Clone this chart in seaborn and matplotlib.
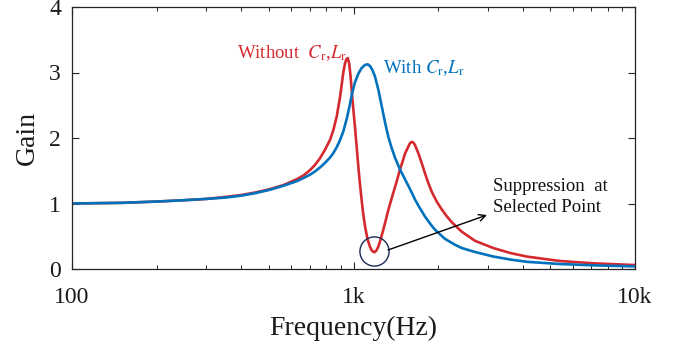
import numpy as np
import pandas as pd
import matplotlib
matplotlib.use('Agg')
import matplotlib.pyplot as plt
import seaborn as sns

# ---- data ----
freq_without = [100, 150, 200, 250, 300, 350, 400, 450, 505, 563, 628, 665, 701, 730, 760, 792,
                825, 848, 872, 896, 909, 920, 933, 943, 954, 965, 972, 980, 985, 998, 1012,
                1026, 1040, 1054, 1069, 1083, 1099, 1121, 1144, 1162, 1186, 1205, 1225, 1250,
                1276, 1303, 1329, 1366, 1404, 1433, 1463, 1494, 1524, 1566, 1587, 1609, 1632,
                1654, 1699, 1746, 1795, 1845, 1896, 1975, 2058, 2140, 2233, 2424, 2702, 3139,
                3597, 4124, 5415, 7111, 10000]
gain_without = [1.00, 1.01, 1.03, 1.05, 1.07, 1.10, 1.13, 1.17, 1.22, 1.28, 1.37, 1.43, 1.51, 1.59, 1.69, 1.82,
                1.97, 2.12, 2.33, 2.63, 2.83, 3.00, 3.14, 3.20, 3.22, 3.14, 3.02, 2.86, 2.74, 2.45, 2.17,
                1.87, 1.57, 1.30, 1.05, 0.84, 0.65, 0.46, 0.34, 0.28, 0.255, 0.28, 0.34, 0.46,
                0.60, 0.75, 0.90, 1.075, 1.25, 1.38, 1.52, 1.64, 1.76, 1.87, 1.92, 1.94, 1.93,
                1.89, 1.77, 1.62, 1.46, 1.31, 1.18, 1.03, 0.91, 0.81, 0.715, 0.57, 0.43, 0.32,
                0.245, 0.19, 0.122, 0.087, 0.06]

freq_with = [100, 150, 200, 250, 300, 350, 400, 450, 505, 563, 628, 665, 701, 730, 760, 792,
             825, 848, 872, 896, 920, 947, 972, 988, 1012, 1040, 1069, 1099, 1123, 1144, 1167,
             1192, 1225, 1259, 1294, 1329, 1366, 1404, 1433, 1463, 1524, 1566, 1609, 1654,
             1699, 1795, 1896, 1948, 2113, 2294, 2424, 2702, 3139, 3597, 4124, 5415, 7111, 10000]
gain_with = [1.00, 1.01, 1.03, 1.05, 1.07, 1.09, 1.12, 1.16, 1.21, 1.27, 1.34, 1.39, 1.44, 1.49, 1.55, 1.62,
             1.70, 1.77, 1.86, 1.97, 2.10, 2.30, 2.52, 2.68, 2.85, 2.98, 3.07, 3.115, 3.125, 3.10, 3.04,
             2.94, 2.74, 2.49, 2.24, 2.02, 1.85, 1.70, 1.61, 1.52, 1.37, 1.27, 1.17, 1.06,
             0.97, 0.80, 0.66, 0.60, 0.46, 0.37, 0.32, 0.26, 0.19, 0.145, 0.11, 0.076, 0.056, 0.04]

x_ticks = [100, 1000, 10000]
x_tick_labels = ['100', '1k', '10k']
y_ticks = [0, 1, 2, 3, 4]

RED = '#D42A2F'
BLUE = '#0072BD'
NAVY = '#1B2A55'

sns.set_theme(style='ticks')
plt.rcParams['font.family'] = ['Liberation Serif', 'DejaVu Serif']
plt.rcParams['mathtext.fontset'] = 'stix'

df_without = pd.DataFrame({'Frequency': freq_without, 'Gain': gain_without})
df_with = pd.DataFrame({'Frequency': freq_with, 'Gain': gain_with})

fig = plt.figure(figsize=(6.73, 3.51), dpi=100)
ax = fig.add_axes([72 / 673, 1 - 269 / 351, (635 - 72) / 673, (269 - 7) / 351])

sns.lineplot(data=df_without, x='Frequency', y='Gain', ax=ax, color=RED, lw=1.9, estimator=None)
sns.lineplot(data=df_with, x='Frequency', y='Gain', ax=ax, color=BLUE, lw=1.9, estimator=None)
for ln in ax.lines:
    ln.set_solid_joinstyle('round')

ax.set_xscale('log')
ax.set_xlim(100, 10000)
ax.set_ylim(0, 4)
ax.set_xticks(x_ticks)
ax.set_xticklabels(x_tick_labels)
ax.set_yticks(y_ticks)

for s in ax.spines.values():
    s.set_visible(True)
    s.set_color('#262626')
    s.set_linewidth(0.9)

ax.tick_params(which='both', direction='in', top=True, right=True, colors='#262626',
               labelcolor='#1a1a1a')
ax.tick_params(which='major', length=5, width=0.8, labelsize=17)
ax.tick_params(which='minor', length=3, width=0.7)
ax.tick_params(axis='x', which='major', pad=13)
ax.tick_params(axis='y', which='major', pad=8)

ax.set_xlabel('Frequency(Hz)', fontsize=20, color='#1a1a1a')
ax.set_ylabel('Gain', fontsize=20, color='#1a1a1a')
ax.xaxis.set_label_coords(0.5, -0.18)
ax.yaxis.set_label_coords(-0.057, 0.5)

ax.text(385, 3.22, r'Without  $C_{\mathrm{r}}$,$L_{\mathrm{r}}$', color=RED, fontsize=13.5,
        ha='left', va='baseline')
ax.text(1273, 2.99, r'With $C_{\mathrm{r}}$,$L_{\mathrm{r}}$', color=BLUE, fontsize=13.5,
        ha='left', va='baseline')
ax.text(3122, 1.10, 'Suppression  at\nSelected Point', color='#111111', fontsize=13.5,
        ha='left', va='center', linespacing=1.3)

ax.plot([1178], [0.275], marker='o', ms=21, mfc='none', mec=NAVY, mew=1.0, ls='none')
ax.annotate('', xy=(2980, 0.824), xytext=(1326, 0.29),
            arrowprops=dict(arrowstyle='->', lw=1.0, color='black', shrinkA=0, shrinkB=0))

fig.savefig('out.png', dpi=100)
